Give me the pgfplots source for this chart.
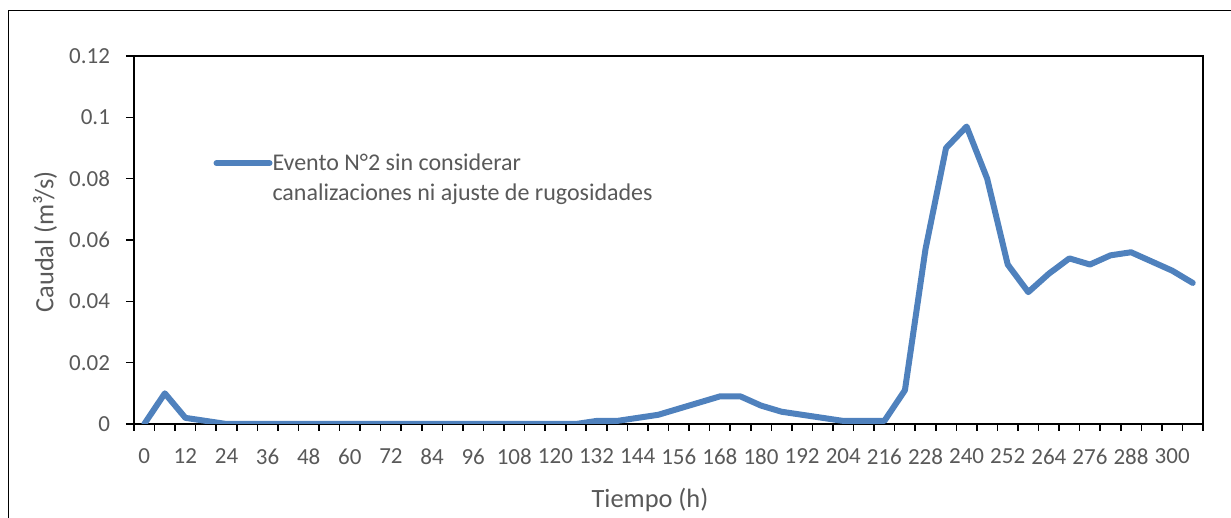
\documentclass[border=0pt]{standalone}
\usepackage{fontspec}
\setmainfont{Carlito}
\usepackage{pgfplots}
\pgfplotsset{compat=1.18}
\definecolor{txt}{HTML}{595959}
\definecolor{ser}{HTML}{4F81BD}
\begin{document}
\begin{tikzpicture}
\useasboundingbox (0,0) rectangle (615.5pt,259pt);
\draw[line width=0.5pt] (4pt,0) -- (4pt,253.5pt) -- (616pt,253.5pt);
\begin{axis}[
  at={(67pt,47pt)}, anchor=south west,
  scale only axis, width=534.5pt, height=184pt,
  font=\fontsize{12}{15}\selectfont,
  xmin=-3, xmax=309, ymin=0, ymax=0.12,
  axis line style={black, line width=0.8pt},
  xtick={0,12,...,300},
  minor xtick={-3,3,...,309},
  major x tick style={draw=none},
  minor tick length=3.5pt,
  major tick length=4pt,
  tick style={black, line width=0.8pt},
  tick align=outside,
  xtick pos=bottom, ytick pos=left,
  ytick={0,0.02,0.04,0.06,0.08,0.1,0.12},
  yticklabels={0,0.02,0.04,0.06,0.08,0.1,0.12},
  /pgf/number format/assume math mode=true,
  ticklabel style={text=txt, font=\fontsize{11.5}{14}\selectfont},
  xticklabel style={yshift=-5pt},
  yticklabel style={xshift=-4.5pt},
  xlabel={Tiempo (h)}, ylabel={Caudal (m³/s)},
  label style={text=txt, font=\fontsize{13.2}{16}\selectfont},
  xlabel style={at={(axis description cs:0.4827,-0.2065)}, anchor=center},
  ylabel style={at={(axis description cs:-0.0833,0.4946)}, anchor=center, rotate=0},
  legend style={at={(axis description cs:0.074,0.742)}, anchor=north west, draw=none, fill=none, inner sep=0pt,
    nodes={inner ysep=1pt, inner xsep=0pt, align=left, text=txt, font=\fontsize{12}{15}\selectfont}},
  legend image code/.code={\path[draw=none] (0pt,-7.5pt) -- (0pt,7.5pt);\draw[line width=3pt, ser, line cap=round] (0pt,7.5pt) -- (26.5pt,7.5pt);},
]
\addplot[ser, line width=3pt, line join=round, line cap=round] coordinates {
(0,0) (6,0.010) (12,0.002) (18,0.001) (24,0) (30,0) (36,0) (42,0) (48,0) (54,0)
(60,0) (66,0) (72,0) (78,0) (84,0) (90,0) (96,0) (102,0) (108,0) (114,0)
(120,0) (126,0) (132,0.001) (138,0.001) (144,0.002) (150,0.003) (156,0.005) (162,0.007)
(168,0.009) (174,0.009) (180,0.006) (186,0.004) (192,0.003) (198,0.002) (204,0.001)
(210,0.001) (216,0.001) (222,0.011) (228,0.057) (234,0.090) (240,0.097) (246,0.080)
(252,0.052) (258,0.043) (264,0.049) (270,0.054) (276,0.052) (282,0.055) (288,0.056)
(294,0.053) (300,0.050) (306,0.046)
};
\addlegendentry{Evento N°2 sin considerar\\canalizaciones ni ajuste de rugosidades}
\end{axis}
\end{tikzpicture}
\end{document}
